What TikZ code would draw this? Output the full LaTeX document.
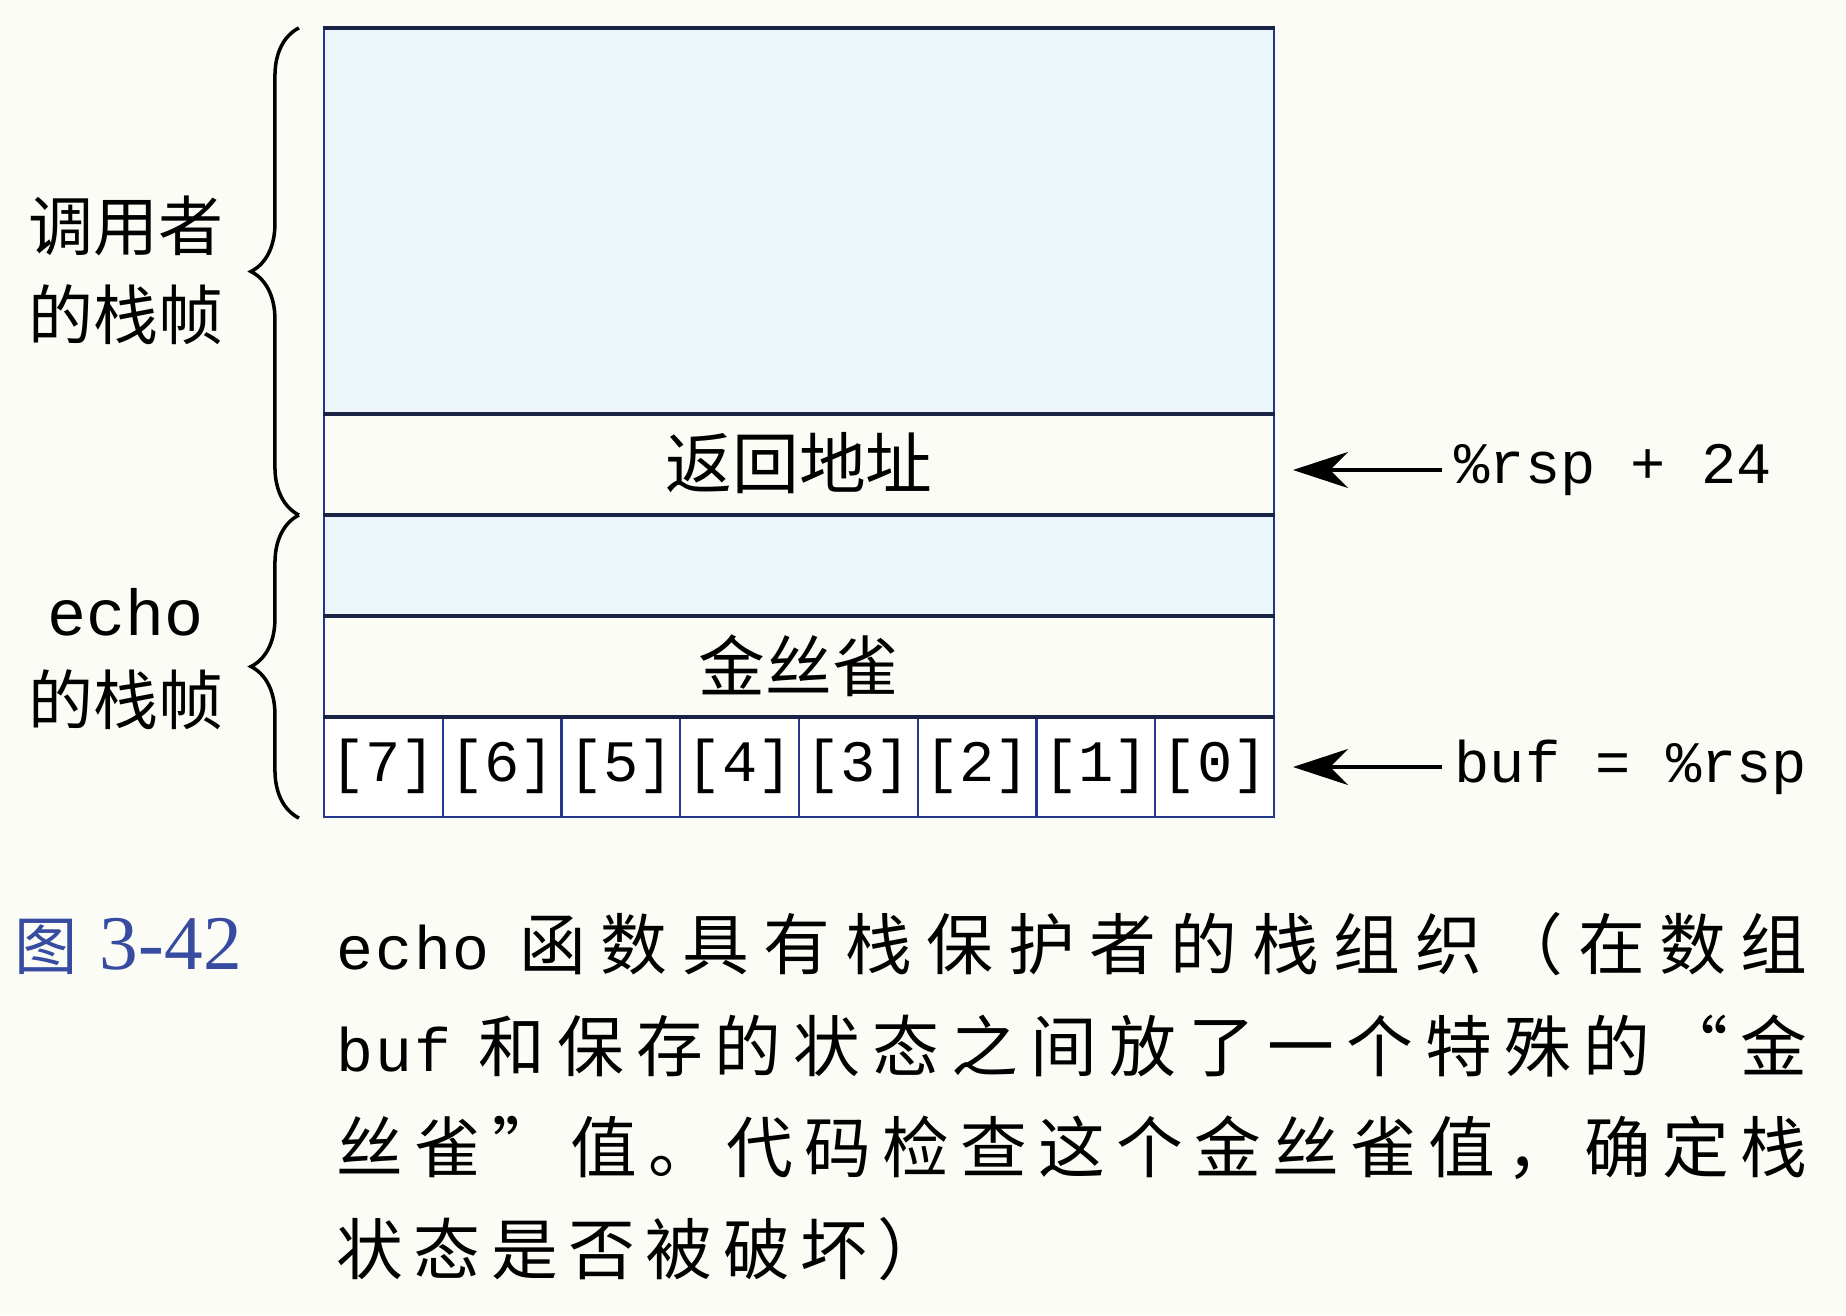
\documentclass[tikz,border=0pt]{standalone}
\usepackage{fontspec}
\usepackage{tikz}
\usetikzlibrary{calc,arrows.meta,decorations.pathreplacing}
\setmainfont{Noto Sans CJK SC}
\newfontfamily\mono{Liberation Mono}
\newfontfamily\capmono[LetterSpace=3]{Liberation Mono}
\newfontfamily\figserif{Liberation Serif}

% caption helpers: spread CJK glyphs over a fixed width
\newcommand\capcode[1]{{\capmono\fontsize{17.5}{17.5}\selectfont #1}}
\newcommand\capgap{\hfil}
\def\endspread{}
\def\spreadchars#1{#1\spreadnext}
\def\spreadnext#1{\ifx#1\endspread\else\capgap#1\expandafter\spreadnext\fi}

\definecolor{paper}{RGB}{252,252,247}
\definecolor{stackblue}{RGB}{236,245,250}
\definecolor{edgeblue}{RGB}{35,55,140}
\definecolor{rule}{RGB}{25,35,70}
\definecolor{figblue}{RGB}{55,75,160}

\tikzset{
	slot/.style={draw=edgeblue, line width=0.6pt, minimum width=9.5cm, minimum height=1.01cm, inner sep=0pt, font=\fontsize{19}{19}\selectfont},
	cell/.style={draw=edgeblue, line width=0.6pt, fill=white, minimum width=1.1875cm, minimum height=1.01cm, inner sep=0pt, font=\mono\fontsize{16.7}{16.7}\selectfont},
	divider/.style={draw=rule, line width=1.1pt},
	ptr/.style={-{Stealth[length=5.5mm,width=3.6mm]}, line width=1.3pt, shorten <=1.2mm},
	ptrlbl/.style={anchor=west, inner sep=0pt, font=\mono\fontsize{16.7}{16.7}\selectfont},
	framebrace/.style={decorate, decoration={brace, amplitude=4.8mm}, line width=1pt},
	framelbl/.style={align=center, inner sep=0pt, font=\fontsize{18.5}{25.3}\selectfont},
	capline/.style={anchor=base west, inner sep=0pt, font=\fontsize{19}{19}\selectfont}
}

\begin{document}
\begin{tikzpicture}
	%%%%% START %%%%%
	
	\fill[paper] (0,0) rectangle (18.46,13.15);
	
	% stack slots
	\node[slot, fill=stackblue, minimum height=3.84cm] (caller) at (7.99,10.94) {};
	\node[slot, fill=paper] (ret) at (7.99,8.515) {返回地址};
	\node[slot, fill=stackblue] (saved) at (7.99,7.505) {};
	\node[slot, fill=paper] (canary) at (7.99,6.495) {金丝雀};
	
	\foreach \i in {0,...,7} {
		\pgfmathtruncatemacro\k{7-\i}
		\node[cell] (b\k) at ({3.24+(\i+0.5)*1.1875},5.485) {[\k]};
	}
	
	\draw[divider] (caller.north west) -- (caller.north east);
	\draw[divider] (caller.south west) -- (caller.south east);
	\draw[divider] (ret.south west) -- (ret.south east);
	\draw[divider] (saved.south west) -- (saved.south east);
	\draw[divider] (canary.south west) -- (canary.south east);
	
	% frames
	\draw[framebrace] ([xshift=-2.4mm]ret.south west) -- ([xshift=-2.4mm]caller.north west);
	\draw[framebrace] ([xshift=-2.4mm]b7.south west) -- ([xshift=-2.4mm]ret.south west);
	
	\node[framelbl] (callerlbl) at (1.26,10.45) {调用者\\的栈帧};
	\node[framelbl] (echolbl) at (1.26,6.56) {{\mono echo}\\的栈帧};
	
	% pointers
	\node[ptrlbl] (rsp24) at (14.54,8.45) {\%rsp + 24};
	\node[ptrlbl] (bufrsp) at (14.54,5.48) {buf = \%rsp};
	\draw[ptr] (rsp24.west) -- ([xshift=1.8mm]rsp24.west -| ret.east);
	\draw[ptr] (bufrsp.west) -- ([xshift=1.8mm]bufrsp.west -| b0.east);
	
	% caption
	\node[anchor=base west, inner sep=0pt, text=figblue, font=\fontsize{18}{18}\selectfont] (fignum) at (0.14,3.46) {图\hspace{0.22cm}{\figserif\fontsize{22}{22}\selectfont 3-42}};
	\node[capline] (cap1) at (3.36,3.46) {\hbox to 14.71cm{\capcode{echo}\hskip0.15cm\capgap\spreadchars 函数具有栈保护者的栈组织（在数组\endspread}};
	\node[capline] (cap2) at (3.36,2.44) {\hbox to 14.71cm{\capcode{buf}\hskip0.15cm\capgap\spreadchars 和保存的状态之间放了一个特殊的“金\endspread}};
	\node[capline] (cap3) at (3.36,1.43) {\hbox to 14.71cm{\spreadchars 丝雀”值。代码检查这个金丝雀值，确定栈\endspread}};
	\node[capline] (cap4) at (3.36,0.41) {\def\capgap{\hskip0.105cm}\spreadchars 状态是否被破坏）\endspread};
	
	%%%%% END %%%%%
\end{tikzpicture}
\end{document}
